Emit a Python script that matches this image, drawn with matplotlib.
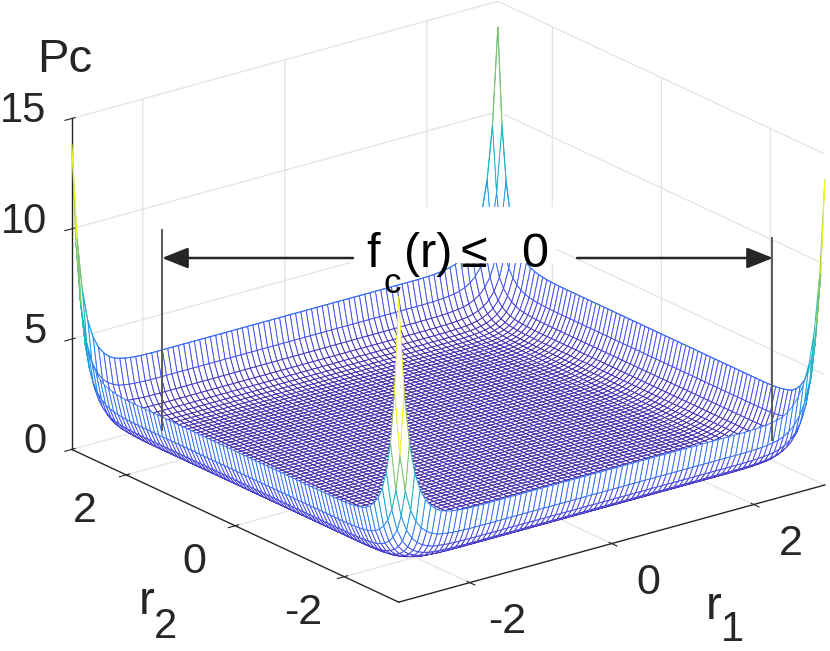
import numpy as np
import matplotlib
matplotlib.use('Agg')
import matplotlib.pyplot as plt
from matplotlib.colors import LinearSegmentedColormap, Normalize
from matplotlib.patches import Rectangle, FancyArrowPatch, ArrowStyle
from matplotlib.lines import Line2D
from matplotlib.transforms import IdentityTransform
from mpl_toolkits.mplot3d import proj3d
from mpl_toolkits.mplot3d.art3d import Line3DCollection

plt.rcParams['font.family'] = ['Liberation Sans', 'DejaVu Sans']
plt.rcParams['axes.unicode_minus'] = False
plt.rcParams['grid.color'] = '#e3e3e3'
plt.rcParams['grid.linewidth'] = 0.9

# ---------------- data ----------------
r_min, r_max = -3.0, 3.0
n_half = 40                      # grid steps from centre to edge (step 0.075)
# penalty factor along one coordinate: index 0 -> r = 0, index 40 -> |r| = 3
half_profile = [0.91, 0.91, 0.91, 0.91, 0.91, 0.91, 0.91, 0.91, 0.91, 0.91,
                0.91, 0.91, 0.91, 0.91, 0.91, 0.91, 0.91, 0.91, 0.91, 0.91,
                0.91, 0.91, 0.91, 0.91, 0.91, 0.91, 0.912, 0.914, 0.918, 0.925,
                0.935, 0.95, 0.97, 1.01, 1.07, 1.16, 1.30, 1.52, 1.90, 2.55,
                3.72]
x_ticks = [-2, 0, 2]
y_ticks = [-2, 0, 2]
z_ticks = [0, 5, 10, 15]
x_ticklabels = ['-2', '0', '2']
y_ticklabels = ['-2', '0', '2']
z_ticklabels = ['0', '5', '10', '15']
z_limits = [0, 15]

# ---------------- grid ----------------
r_half = np.linspace(0.0, r_max, n_half + 1)
r = np.concatenate([-r_half[::-1], r_half[1:]])
prof = np.array(half_profile[::-1] + half_profile[1:])
R1, R2 = np.meshgrid(r, r)
P1, P2 = np.meshgrid(prof, prof)
Pc = P1 * P2

parula = LinearSegmentedColormap.from_list(
    'parula', [(0.242, 0.150, 0.660), (0.275, 0.290, 0.935), (0.205, 0.450, 0.990),
               (0.120, 0.590, 0.900), (0.060, 0.690, 0.830), (0.130, 0.750, 0.680),
               (0.350, 0.790, 0.480), (0.650, 0.760, 0.300), (0.920, 0.730, 0.250),
               (0.990, 0.820, 0.200), (0.977, 0.984, 0.081)])
norm = Normalize(Pc.min(), Pc.max())

fig = plt.figure(figsize=(8.3, 6.51), dpi=100)
ax = fig.add_axes([0.0295, 0.023, 1.0, 1.0], projection='3d', proj_type='ortho')
ax.view_init(elev=21, azim=-127.5)
ax.set_box_aspect((1, 1, 0.66), zoom=1.25)
ax.computed_zorder = False

surf = ax.plot_surface(R1, R2, Pc, rstride=1, cstride=1, color='white',
                       shade=False, linewidth=0.65, antialiased=True, zorder=2)
# each mesh cell takes the colour of its first (lowest-index) vertex, as a flat-coloured mesh does
surf.set_edgecolor(parula(norm(Pc[:-1, :-1])).reshape(-1, 4))
surf.set_clip_on(False)

# far boundary lines (r1 = 3 and r2 = 3): every segment coloured by its starting vertex
segs, cols = [], []
for line_x, line_y, line_z in ((R1[-1, :], R2[-1, :], Pc[-1, :]), (R1[:, -1], R2[:, -1], Pc[:, -1])):
    pts = np.column_stack([line_x, line_y, line_z])
    segs.extend(np.stack([pts[:-1], pts[1:]], axis=1))
    cols.extend(parula(norm(line_z[:-1])))
edge_lines = Line3DCollection(segs, colors=cols, linewidths=0.75, zorder=3)
edge_lines.set_clip_on(False)
ax.add_collection3d(edge_lines)

ax.set_xlim(r_min, r_max)
ax.set_ylim(r_min, r_max)
ax.set_zlim(*z_limits)
ax.set_xticks(x_ticks)
ax.set_yticks(y_ticks)
ax.set_zticks(z_ticks)
ax.set_xticklabels([''] * len(x_ticks))
ax.set_yticklabels([''] * len(y_ticks))
ax.set_zticklabels([''] * len(z_ticks))
ax.tick_params(colors='#262626')
for a in (ax.xaxis, ax.yaxis, ax.zaxis):
    a.set_pane_color((1, 1, 1, 0))
    a.pane.set_edgecolor('#e3e3e3')
    a.line.set_color('#262626')
    a.line.set_linewidth(1.0)

ink = '#262626'

# tick labels: project the tick positions through the axes, then offset in pixels
fig.canvas.draw()
M = ax.get_proj()
def to_px(x, y, z):
    xs, ys, _ = proj3d.proj_transform(np.atleast_1d(x), np.atleast_1d(y), np.atleast_1d(z), M)
    return ax.transData.transform(np.column_stack([xs, ys]))

ident = IdentityTransform()
for t, lab in zip(x_ticks, x_ticklabels):
    px, py = to_px(t, r_min, z_limits[0])[0]
    fig.text(px + 37, py - 39, lab, transform=ident, fontsize=31, color=ink, ha='center', va='center')
for t, lab in zip(y_ticks, y_ticklabels):
    px, py = to_px(r_min, t, z_limits[0])[0]
    fig.text(px - 41, py - 36, lab, transform=ident, fontsize=31, color=ink, ha='center', va='center')
for t, lab in zip(z_ticks, z_ticklabels):
    px, py = to_px(r_min, r_max, t)[0]
    fig.text(px - 25, py + 7, lab, transform=ident, fontsize=30, color=ink, ha='right', va='center')

# ---------------- labels & annotation ----------------
W, H = 830.0, 651.0
def fx(px):
    return px / W
def fy(py):
    return 1.0 - py / H

fig.text(fx(37), fy(72), 'Pc', fontsize=34, color=ink, ha='left', va='baseline')
fig.text(fx(139), fy(614), 'r', fontsize=34, color=ink, ha='left', va='baseline')
fig.text(fx(154), fy(638), '2', fontsize=30, color=ink, ha='left', va='baseline')
fig.text(fx(706), fy(619), 'r', fontsize=34, color=ink, ha='left', va='baseline')
fig.text(fx(721), fy(641), '1', fontsize=30, color=ink, ha='left', va='baseline')

fig.add_artist(Rectangle((fx(350), fy(263)), fx(556) - fx(350), fy(207) - fy(263),
                         transform=fig.transFigure, facecolor='white', edgecolor='none', zorder=5))
for txt, x0, y0, fs in (('f', 366, 267, 35), ('c', 383, 293, 25), ('(r)', 404, 267, 35),
                        ('\u2264', 460, 267, 35), ('0', 521, 267, 35)):
    fig.text(fx(x0), fy(y0), txt, fontsize=fs, color='black', ha='left', va='baseline', zorder=6)

style = ArrowStyle('-|>', head_length=1.0, head_width=0.4)
for xa, xb in ((353, 162), (577, 773)):
    fig.add_artist(FancyArrowPatch((fx(xa), fy(258)), (fx(xb), fy(258)),
                                   transform=fig.transFigure, arrowstyle=style,
                                   mutation_scale=16, color=ink, lw=1.8,
                                   shrinkA=0, shrinkB=0, zorder=6))
fig.add_artist(Line2D([fx(162), fx(162)], [fy(230), fy(430)], transform=fig.transFigure,
                      color='#5a5a5a', lw=1.4, zorder=6))
fig.add_artist(Line2D([fx(772), fx(772)], [fy(238), fy(440)], transform=fig.transFigure,
                      color='#5a5a5a', lw=1.4, zorder=6))

fig.savefig('out.png', dpi=100)
